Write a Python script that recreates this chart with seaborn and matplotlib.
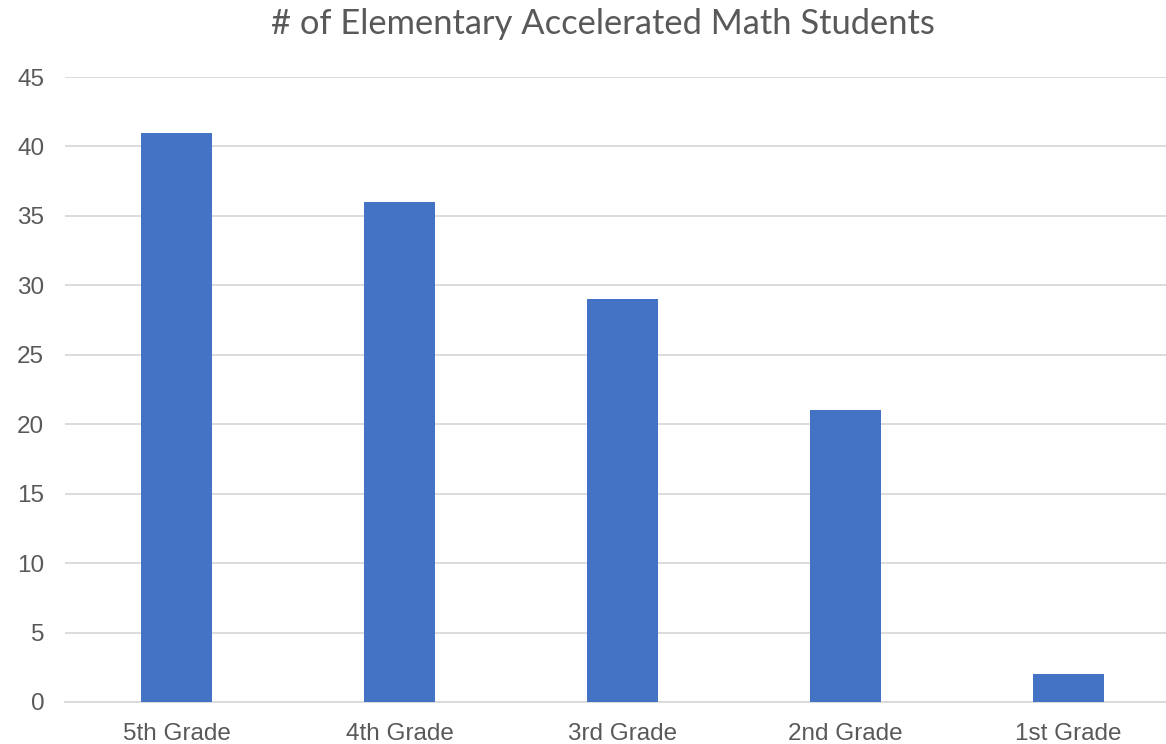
import matplotlib
matplotlib.use("Agg")
import matplotlib.pyplot as plt
import seaborn as sns
import pandas as pd

categories = ["5th Grade", "4th Grade", "3rd Grade", "2nd Grade", "1st Grade"]
values = [41, 36, 29, 21, 2]
yticks = [0, 5, 10, 15, 20, 25, 30, 35, 40, 45]
title = "# of Elementary Accelerated Math Students"

sns.set_theme(style="white")
plt.rcParams['font.family'] = ['Liberation Sans', 'DejaVu Sans']

df = pd.DataFrame({"grade": categories, "count": values})

fig = plt.figure(figsize=(11.66, 7.44), dpi=100)
ax = fig.add_axes([65/1166, 42/744, 1101/1166, 625/744])
sns.barplot(data=df, x="grade", y="count", color="#4472C4", width=0.315,
            saturation=1, linewidth=0, ax=ax, zorder=3)
ax.set_xlim(-0.5, -0.5 + 1101/223)
ax.set_ylim(0, 45)
ax.set_yticks(yticks)
ax.yaxis.grid(True, color="#D9D9D9", linewidth=1.3, zorder=0)
ax.set_axisbelow(True)
for s in ["top", "right", "left"]:
    ax.spines[s].set_visible(False)
ax.spines["bottom"].set_color("#D9D9D9")
ax.spines["bottom"].set_linewidth(1.3)
ax.set_xlabel("")
ax.set_ylabel("")
ax.tick_params(axis="both", length=0, labelsize=17.5, labelcolor="#595959")
ax.tick_params(axis="y", pad=15)
ax.tick_params(axis="x", pad=15)
fig.text(603/1166, 1 - 24/744, title, ha="center", va="center",
         fontsize=24.8, color="#595959", family=["Lato", "DejaVu Sans"])
fig.savefig("out.png", dpi=100)
